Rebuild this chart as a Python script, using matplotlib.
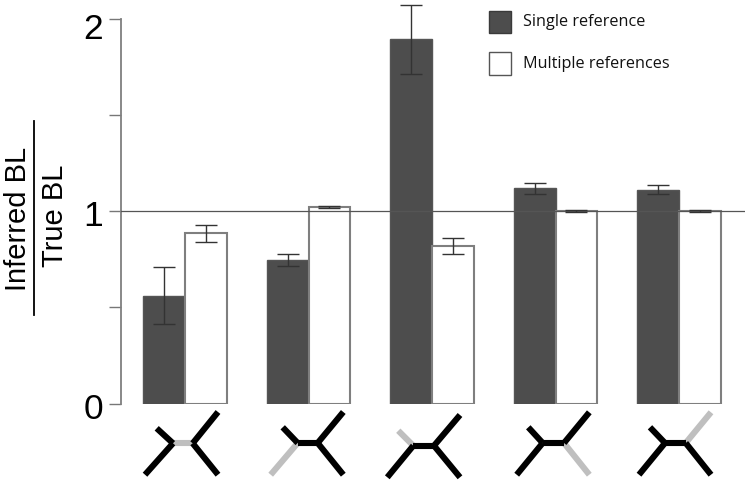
import matplotlib
matplotlib.use("Agg")
import matplotlib.pyplot as plt
import numpy as np
from matplotlib.lines import Line2D
from matplotlib.patches import Rectangle
from matplotlib.transforms import ScaledTranslation

W, H = 750, 485

groups = [0, 1, 2, 3, 4]
single_vals = [0.56, 0.746, 1.896, 1.119, 1.112]
single_low = [0.413, 0.716, 1.714, 1.09, 1.088]
single_high = [0.708, 0.776, 2.075, 1.145, 1.135]
multi_vals = [0.885, 1.022, 0.82, 1.0, 1.0]
multi_low = [0.838, 1.016, 0.78, 0.995, 0.995]
multi_high = [0.928, 1.028, 0.86, 1.005, 1.005]
y_ticks = [0, 0.5, 1, 1.5, 2]
y_ticklabels = ["0", "", "1", "", "2"]
series_names = ["Single reference", "Multiple references"]

DARK = "#4d4d4d"
EDGE = "#7f7f7f"
ERR = "#333333"
GRAY = "#bfbfbf"
BLACK = "#000000"

fig = plt.figure(figsize=(W / 100, H / 100), dpi=100, facecolor="white")


def fx(x):
    return x / W


def fy(y):
    return 1 - y / H


ax = fig.add_axes([fx(121), fy(404.5), (745 - 121) / W, (404.5 - 20) / H])
ax.set_facecolor("none")
width = 41.6 / 123.5
xs = np.array(groups, dtype=float)
ax.bar(xs - width / 2, single_vals, width, color=DARK, edgecolor="#555555", linewidth=1.0, zorder=2)
ax.bar(xs + width / 2, multi_vals, width, color="white", edgecolor=EDGE, linewidth=1.5, zorder=2)

for pos, v, lo, hi in [(xs - width / 2, single_vals, single_low, single_high),
                       (xs + width / 2, multi_vals, multi_low, multi_high)]:
    v = np.array(v)
    ax.errorbar(pos, v, yerr=[v - np.array(lo), np.array(hi) - v], fmt="none",
                ecolor=ERR, elinewidth=1.0, capsize=8.2, capthick=1.0, zorder=4, clip_on=False)

ax.axhline(1, color="#555555", lw=0.9, zorder=3)

ax.set_xlim(-64 / 123.5, 560 / 123.5)
ax.set_ylim(0, 2)
ax.set_xticks([])
ax.set_yticks(y_ticks)
ax.set_yticklabels(y_ticklabels, family="Liberation Sans", fontsize=25.5, color="black")
ax.tick_params(axis="y", length=9, width=1.0, color="#777777", pad=4)
for s in ["top", "right", "bottom"]:
    ax.spines[s].set_visible(False)
ax.spines["left"].set_color(EDGE)
ax.spines["left"].set_linewidth(1.3)

# the top tick label sits a little below its tick, the others just under theirs
for lab, shift_px in zip(ax.get_yticklabels(), [1.5, 0, 1, 0, 6]):
    lab.set_transform(lab.get_transform() + ScaledTranslation(0, -shift_px / 100, fig.dpi_scale_trans))

# y axis label drawn as a fraction
fig.text(fx(18), fy(219), "Inferred BL", rotation=90, family="Liberation Sans", fontsize=21,
         ha="center", va="center", color="black")
fig.text(fx(55), fy(216), "True BL", rotation=90, family="Liberation Sans", fontsize=21,
         ha="center", va="center", color="black")
fig.add_artist(Line2D([fx(34), fx(34)], [fy(122), fy(316)], color="black", lw=1.3))

# legend
for (top, bottom), face, edge, name, text_y in [((11.7, 34.3), DARK, "#3a3a3a", series_names[0], 22.5),
                                                ((52.5, 75.5), "white", "#555555", series_names[1], 63.5)]:
    fig.add_artist(Rectangle((fx(489.3), fy(bottom)), 22 / W, (bottom - top) / H,
                             transform=fig.transFigure, facecolor=face, edgecolor=edge, lw=1.0))
    fig.text(fx(522.7), fy(text_y), name, family="Open Sans", fontsize=11.7,
             ha="left", va="center", color="#111111")

# tree glyphs under each group: (centre bar ends, y, leaf tips, highlighted branch)
icons = [
    dict(c=(173, 192.7, 444.3), lt=(156.7, 429.3), lb=(145, 475.7), rt=(218, 413), rb=(218, 475.7), hi="c"),
    dict(c=(297.7, 317.7, 444), lt=(282.7, 428.3), lb=(270.7, 475.7), rt=(343.3, 413), rb=(343.3, 475.7), hi="lb"),
    dict(c=(413.3, 434, 446.7), lt=(398.3, 431.7), lb=(387.3, 478.3), rt=(460, 416), rb=(460, 478.3), hi="lt"),
    dict(c=(542.7, 564, 444), lt=(528.3, 428.3), lb=(516.7, 475.7), rt=(589.3, 413.3), rb=(589.3, 475.7), hi="rb"),
    dict(c=(665, 685.7, 444), lt=(650, 428.3), lb=(639, 475.7), rt=(711, 413.3), rb=(711, 475.7), hi="rt"),
]


def seg(p, q, color, z):
    fig.add_artist(Line2D([fx(p[0]), fx(q[0])], [fy(p[1]), fy(q[1])], color=color, lw=4.4,
                          solid_capstyle="butt", zorder=z))


for ic in icons:
    x0, x1, yc = ic["c"]
    a, b = (x0, yc), (x1, yc)
    branches = {"lt": (a, ic["lt"]), "lb": (a, ic["lb"]), "rt": (b, ic["rt"]), "rb": (b, ic["rb"]), "c": (a, b)}
    for key, (p, q) in branches.items():
        if key == ic["hi"]:
            seg(p, q, GRAY, 5)
    for key, (p, q) in branches.items():
        if key != ic["hi"]:
            seg(p, q, BLACK, 6)

fig.savefig("out.png", dpi=100, facecolor="white")
